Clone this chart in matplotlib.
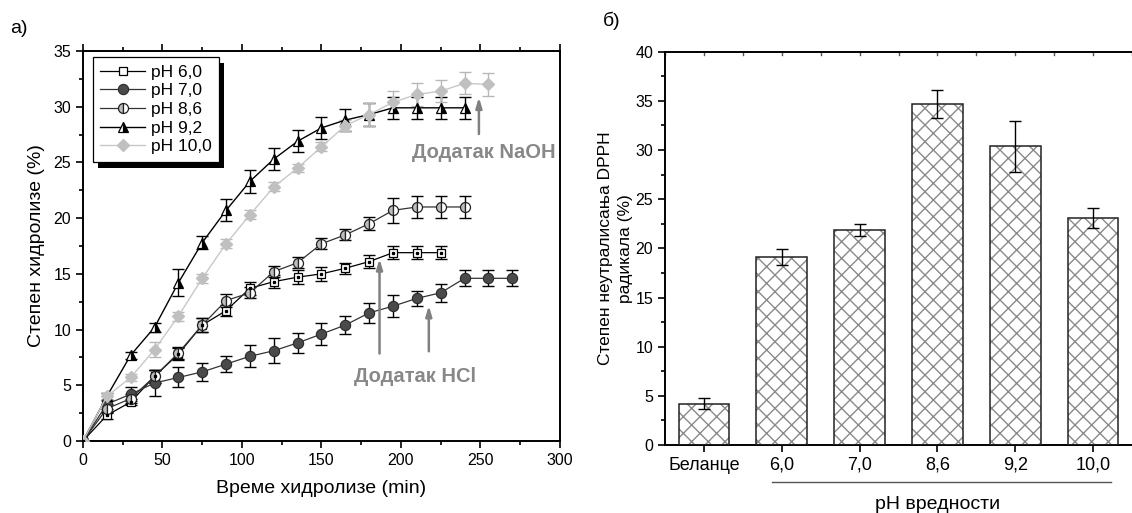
import matplotlib
matplotlib.use("Agg")
import matplotlib.pyplot as plt
import numpy as np
from matplotlib.lines import Line2D
from matplotlib.patches import Rectangle
from matplotlib.ticker import MultipleLocator

plt.rcParams['font.family'] = ['Liberation Sans', 'DejaVu Sans']

# ---- hydrolysis kinetics ----
t = [0, 15, 30, 45, 60, 75, 90, 105, 120, 135, 150, 165, 180, 195, 210, 225, 240, 255, 270]

ph60 = [0, 2.3, 3.5, 5.8, 7.8, 10.4, 11.7, 13.7, 14.3, 14.7, 15.0, 15.5, 16.1, 16.9, 16.9, 16.9]
ph60_err = [0, 0.3, 0.3, 0.6, 0.5, 0.6, 0.5, 0.6, 0.6, 0.6, 0.6, 0.5, 0.6, 0.6, 0.6, 0.6]

ph70 = [0, 3.3, 4.2, 5.2, 5.7, 6.2, 6.9, 7.6, 8.1, 8.8, 9.6, 10.4, 11.5, 12.1, 12.8, 13.3, 14.6, 14.6, 14.6]
ph70_err = [0, 0.4, 0.6, 1.2, 0.9, 0.8, 0.7, 1.0, 1.1, 0.9, 1.0, 0.8, 0.9, 1.0, 0.7, 0.8, 0.7, 0.7, 0.7]

ph86 = [0, 2.9, 3.8, 5.8, 7.9, 10.4, 12.6, 13.3, 15.2, 16.0, 17.7, 18.5, 19.5, 20.7, 21.0, 21.0, 21.0]
ph86_err = [0, 0.4, 0.4, 0.6, 0.5, 0.6, 0.6, 0.5, 0.5, 0.5, 0.5, 0.5, 0.6, 1.1, 1.0, 1.0, 1.0]

ph92 = [0, 4.0, 7.7, 10.2, 14.2, 17.8, 20.7, 23.3, 25.3, 26.9, 28.1, 28.8, 29.3, 29.9, 29.9, 29.9, 29.9]
ph92_err = [0, 0.3, 0.3, 0.4, 1.2, 0.6, 1.0, 1.0, 1.0, 1.0, 1.0, 1.0, 1.0, 1.0, 1.0, 1.0, 1.0]

ph100 = [0, 4.0, 5.7, 8.2, 11.2, 14.6, 17.7, 20.3, 22.8, 24.5, 26.4, 28.3, 29.3, 30.4, 31.1, 31.4, 32.1, 32.0]
ph100_err = [0, 0.3, 0.3, 0.7, 0.4, 0.4, 0.4, 0.4, 0.4, 0.4, 0.4, 0.5, 1.0, 1.0, 1.0, 1.0, 1.0, 1.0]

# ---- DPPH scavenging ----
samples = ['Беланце', '6,0', '7,0', '8,6', '9,2', '10,0']
dpph = [4.2, 19.1, 21.9, 34.7, 30.4, 23.1]
dpph_err = [0.55, 0.8, 0.6, 1.4, 2.6, 1.0]

fig = plt.figure(figsize=(11.32, 5.13), dpi=100)

# ================= panel a =================
ax1 = fig.add_axes([0.0733, 0.1404, 0.4214, 0.7602])

series = [
    (ph60, ph60_err, 'pH 6,0', dict(marker='s', ms=5.2, mfc='white', mec='black', mew=0.9,
                                     color='black', lw=0.9), 'black'),
    (ph70, ph70_err, 'pH 7,0', dict(marker='o', ms=7.4, mfc='#4a4a4a', mec='#2a2a2a', mew=0.8,
                                     color='#333333', lw=0.9), 'black'),
    (ph86, ph86_err, 'pH 8,6', dict(marker='o', ms=7.2, mfc='#bdbdbd', mfcalt='white',
                                     fillstyle='left', mec='#222222', mew=0.9,
                                     color='#333333', lw=0.9), 'black'),
    (ph92, ph92_err, 'pH 9,2', dict(marker='^', ms=7.6, mfc='black', mfcalt='white',
                                     fillstyle='right', mec='black', mew=0.9,
                                     color='black', lw=1.0), 'black'),
    (ph100, ph100_err, 'pH 10,0', dict(marker='D', ms=6.2, mfc='#c0c0c0', mec='#c0c0c0',
                                        color='#c8c8c8', lw=1.0), '#b8b8b8'),
]

handles = []
for vals, errs, lab, style, ecol in series:
    x = t[:len(vals)]
    ax1.errorbar(x, vals, yerr=errs, fmt='none', ecolor=ecol, elinewidth=1.0,
                 capsize=4, capthick=1.0, zorder=2)
    h, = ax1.plot(x, vals, label=lab, zorder=3, **style)
    handles.append(h)

# the square markers carry a small dot in the centre
ax1.plot(t[:len(ph60)], ph60, ls='none', marker='s', ms=1.4, mfc='black', mec='black', zorder=4)

ax1.set_xlim(0, 300)
ax1.set_ylim(0, 35)
ax1.xaxis.set_major_locator(MultipleLocator(50))
ax1.xaxis.set_minor_locator(MultipleLocator(25))
ax1.yaxis.set_major_locator(MultipleLocator(5))
ax1.yaxis.set_minor_locator(MultipleLocator(2.5))
ax1.tick_params(which='both', direction='out', labelsize=11.5, width=1.2)
ax1.tick_params(which='major', length=5)
ax1.tick_params(which='minor', length=3)
ax1.tick_params(which='both', top=True, right=False)
for s in ax1.spines.values():
    s.set_linewidth(1.4)
ax1.set_xlabel('Време хидролизе (min)', fontsize=14, labelpad=9)
ax1.set_ylabel('Степен хидролизе (%)', fontsize=14, labelpad=6)

leg = ax1.legend(handles=handles, loc='upper left', bbox_to_anchor=(0.02, 0.985),
                 fontsize=12.5, frameon=True, fancybox=False, edgecolor='black',
                 framealpha=1, handlelength=2.6, handletextpad=0.3,
                 borderpad=0.45, labelspacing=0.2, borderaxespad=0)
leg.get_frame().set_linewidth(0.9)
leg.set_zorder(10)

arrow_kw = dict(arrowstyle='-|>,head_length=0.6,head_width=0.18', color='#808080', lw=1.8)
ax1.annotate('', xy=(249, 31.1), xytext=(249, 27.3), arrowprops=arrow_kw)
ax1.text(252, 25.9, 'Додатак NaOH', color='#888888', fontsize=14.5, fontweight='bold',
         ha='center', va='center')
ax1.annotate('', xy=(186.5, 16.6), xytext=(186.5, 7.6), arrowprops=arrow_kw)
ax1.annotate('', xy=(217.5, 12.4), xytext=(217.5, 7.8), arrowprops=arrow_kw)
ax1.text(209, 5.8, 'Додатак HCl', color='#888888', fontsize=14.5, fontweight='bold',
         ha='center', va='center')

fig.text(0.009, 0.935, 'а)', fontsize=14)

# ================= panel б =================
ax2 = fig.add_axes([0.5875, 0.1326, 0.4125, 0.7666])
pos = np.arange(len(samples))
ax2.bar(pos, dpph, width=0.65, color='white', edgecolor='#8a8a8a', hatch='xx',
        linewidth=0, zorder=2)
ax2.bar(pos, dpph, width=0.65, fill=False, edgecolor='#222222', linewidth=1.1, zorder=3)
ax2.errorbar(pos, dpph, yerr=dpph_err, fmt='none', ecolor='black', elinewidth=1.0,
             capsize=4, capthick=1.0, zorder=4)

ax2.set_xlim(-0.5, 5.5)
ax2.set_ylim(0, 40)
ax2.set_xticks(pos)
ax2.set_xticklabels(samples)
ax2.yaxis.set_major_locator(MultipleLocator(5))
ax2.yaxis.set_minor_locator(MultipleLocator(2.5))
ax2.tick_params(which='both', direction='out', labelsize=11.5, width=1.2)
ax2.tick_params(axis='x', labelsize=13)
ax2.tick_params(which='major', length=5)
ax2.tick_params(which='minor', length=3)
ax2.tick_params(axis='x', which='both', top=False)
ax2.spines['right'].set_visible(False)
for s in ax2.spines.values():
    s.set_linewidth(1.4)
ax2.set_ylabel('Степен неутралисања DPPH\nрадикала (%)', fontsize=12.5, labelpad=2,
               linespacing=1.35)

# mirrored marks along the top edge
for xv in np.arange(-0.5, 5.6, 0.5):
    ax2.plot([xv, xv], [40, 39.7], color='#555555', lw=1.0, clip_on=False)

ax2.add_line(Line2D([0.87, 5.23], [-0.094, -0.094], color='#555555', lw=1.0,
                    transform=ax2.get_xaxis_transform(), clip_on=False))
ax2.text(3.0, -0.152, 'pH вредности', transform=ax2.get_xaxis_transform(),
         fontsize=14, ha='center', va='center')

fig.text(0.533, 0.95, 'б)', fontsize=14)

# black drop shadow behind the legend box
fig.canvas.draw()
bb = leg.get_window_extent()
shadow = Rectangle((bb.x0 + 5, bb.y0 - 6), bb.width, bb.height, transform=None,
                   facecolor='black', edgecolor='none', zorder=9)
ax1.add_artist(shadow)

fig.savefig('out.png', dpi=100)
